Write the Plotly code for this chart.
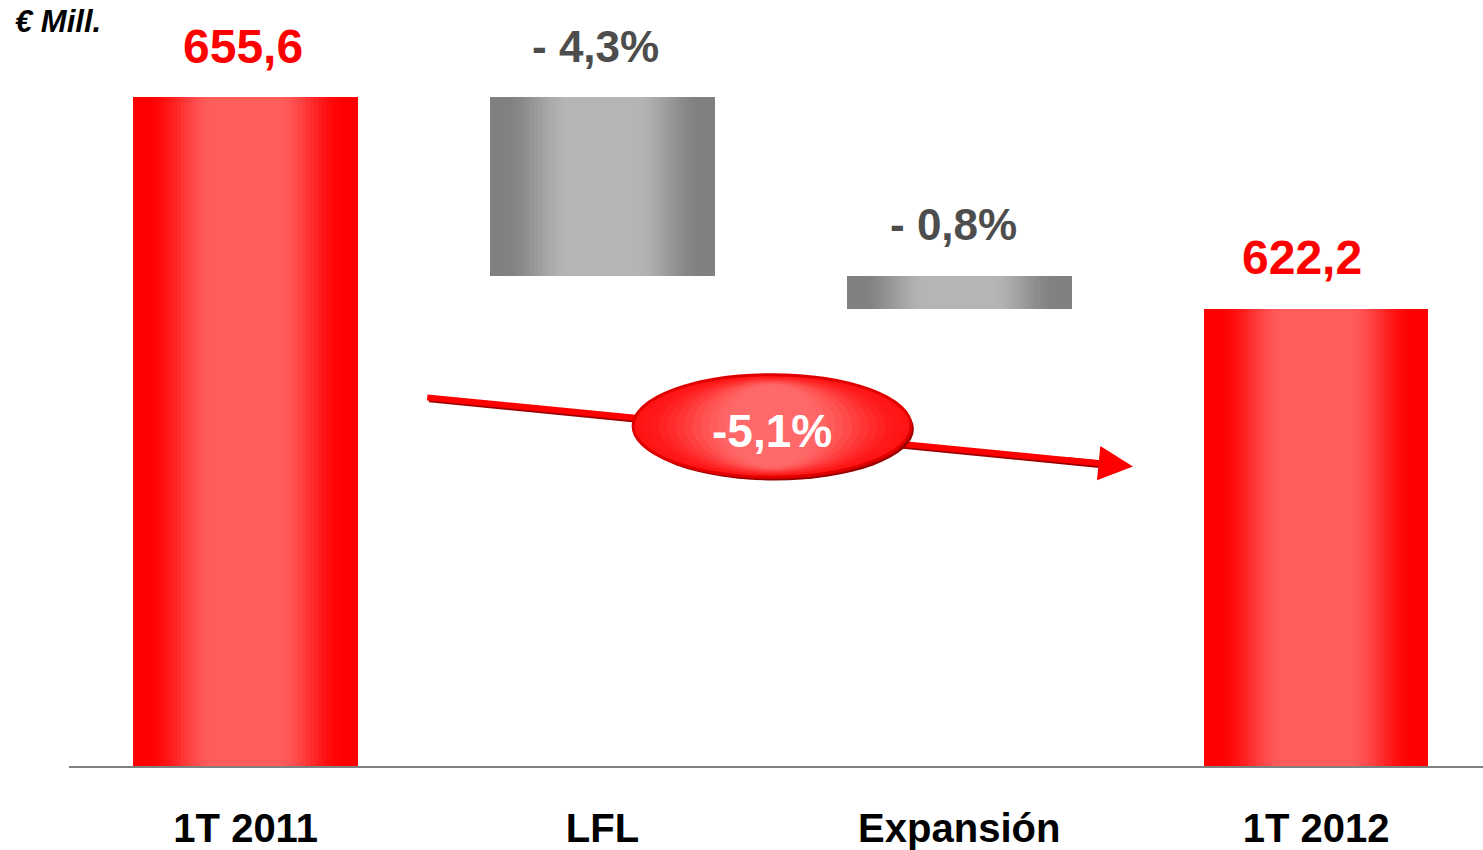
import plotly.graph_objects as go
import numpy as np

# ---------------- data ----------------
categories = ["1T 2011", "LFL", "Expansión", "1T 2012"]
start_value = 655.6          # € Mill., 1T 2011
end_value = 622.2            # € Mill., 1T 2012
lfl_pct = -4.3               # % change LFL
total_pct = -5.1             # % total change
value_labels = ["655,6", "- 4,3%", "- 0,8%", "622,2"]
total_label = "-5,1%"
unit_label = "€ Mill."

# waterfall geometry derived from the data
lfl_delta = start_value * lfl_pct / 100.0
exp_delta = end_value - start_value - lfl_delta
after_lfl = start_value + lfl_delta
tops = [start_value, start_value, after_lfl, end_value]
bases = [0.0, after_lfl, end_value, 0.0]
heights = [t - b for t, b in zip(tops, bases)]
is_total = [True, False, False, True]

# ---------------- style ----------------
FONT = "Liberation Sans, Arial, sans-serif"
BAR_WIDTH = 0.63
RED_EDGE, RED_CENTER = (255, 0, 0), (255, 92, 92)
GRAY_EDGE, GRAY_CENTER = (128, 128, 128), (181, 181, 181)
Y_RANGE = [550, 670.96]
X_RANGE = [-0.495, 3.468]
LABEL_XSHIFT = [-3, -7, -6, -14]


def mix(a, b, t):
    return "rgb({},{},{})".format(*[int(round(a[i] + (b[i] - a[i]) * t)) for i in range(3)])


def smooth(v):
    v = min(max(v, 0.0), 1.0)
    return v * v * (3 - 2 * v)


fig = go.Figure()

# layered bars to simulate a horizontal cylinder-like gradient
N = 28
for k in range(N):
    f = 1 - k / N
    t = smooth((0.9 - f) / (0.9 - 0.3))
    colors = [mix(RED_EDGE, RED_CENTER, t) if tot else mix(GRAY_EDGE, GRAY_CENTER, t)
              for tot in is_total]
    fig.add_trace(go.Bar(
        x=categories, y=heights, base=bases,
        width=BAR_WIDTH * f,
        marker=dict(color=colors, line=dict(width=0)),
        hoverinfo="skip", showlegend=False,
    ))

# value labels above each bar
for cat, top, lab, tot, xs in zip(categories, tops, value_labels, is_total, LABEL_XSHIFT):
    fig.add_annotation(
        x=cat, y=top, text="<b>%s</b>" % lab, showarrow=False,
        yanchor="middle", yshift=51, xshift=xs,
        font=dict(family=FONT, size=48 if tot else 44,
                  color="#ff0000" if tot else "#4d4d4d"),
    )

# trend arrow (decorative)
ARROW_X = (0.509, 2.487)
ARROW_Y = (608.2, 597.3)
slope = (ARROW_Y[1] - ARROW_Y[0]) / (ARROW_X[1] - ARROW_X[0])


def on_line(x):
    return ARROW_Y[0] + (x - ARROW_X[0]) * slope


shapes = []
line_end = ARROW_X[1] - 0.06
# shadow
shapes.append(dict(type="line", xref="x", yref="y",
                   x0=ARROW_X[0] + 0.005, y0=on_line(ARROW_X[0]) - 0.45,
                   x1=line_end, y1=on_line(line_end) - 0.45,
                   line=dict(color="#9a0000", width=4)))
shapes.append(dict(type="line", xref="x", yref="y",
                   x0=ARROW_X[0], y0=ARROW_Y[0], x1=line_end, y1=on_line(line_end),
                   line=dict(color="#ff0000", width=6)))

# ellipse
EX = (1.086, 1.865)
EY = (595.6, 611.8)
ecx, ecy = (EX[0] + EX[1]) / 2, (EY[0] + EY[1]) / 2
ew, eh = EX[1] - EX[0], EY[1] - EY[0]
shapes.append(dict(type="circle", xref="x", yref="y",
                   x0=EX[0] + 0.008, x1=EX[1] + 0.008, y0=EY[0] - 0.5, y1=EY[1] - 0.5,
                   fillcolor="#9a0000", line=dict(width=0)))
M = 14
for k in range(M):
    f = 1 - k / M * 0.85
    hf = 1 - k / M * 0.25
    t = smooth(k / (M - 1) * 1.1)
    shapes.append(dict(type="circle", xref="x", yref="y",
                       x0=ecx - ew * f / 2, x1=ecx + ew * f / 2,
                       y0=ecy - eh * hf / 2, y1=ecy + eh * hf / 2,
                       fillcolor=mix((255, 20, 20), (255, 105, 105), t),
                       line=dict(width=0)))
shapes.append(dict(type="circle", xref="x", yref="y",
                   x0=EX[0], x1=EX[1], y0=EY[0], y1=EY[1],
                   fillcolor="rgba(0,0,0,0)", line=dict(color="#e00000", width=3)))

# arrow head
head_tail = ARROW_X[1] - 0.2
fig.add_annotation(x=ARROW_X[1], y=ARROW_Y[1], ax=head_tail, ay=on_line(head_tail),
                   xref="x", yref="y", axref="x", ayref="y", text="",
                   showarrow=True, arrowhead=2, arrowsize=1.15, arrowwidth=6,
                   arrowcolor="#ff0000")

fig.add_annotation(x=ecx, y=ecy, text="<b>%s</b>" % total_label, showarrow=False,
                   yshift=-5, font=dict(family=FONT, size=46, color="white"))

fig.add_annotation(xref="paper", yref="paper", x=-0.0396, y=0.9716,
                   xanchor="left", yanchor="middle", showarrow=False,
                   text="<b><i>%s</i></b>" % unit_label,
                   font=dict(family=FONT, size=31, color="black"))

fig.update_layout(
    width=1483, height=850,
    margin=dict(l=69, r=0, t=0, b=66),
    paper_bgcolor="white", plot_bgcolor="white",
    barmode="overlay", bargap=0,
    shapes=shapes,
    xaxis=dict(range=X_RANGE, showgrid=False, zeroline=False,
               showline=True, linecolor="#808080", linewidth=2,
               ticks="", ticklabelstandoff=26,
               tickfont=dict(family=FONT, size=40, color="black", weight="bold"),
               fixedrange=True),
    yaxis=dict(range=Y_RANGE, visible=False, showgrid=False, zeroline=False,
               fixedrange=True),
    showlegend=False,
)

PAGE_FIX = (
    "var d=document.querySelector('.plotly-graph-div');"
    "d.style.position='absolute';d.style.left='0px';d.style.top='0px';"
    "document.documentElement.style.cssText='margin:0;padding:0;height:850px;overflow:hidden;';"
    "document.body.style.cssText='margin:0;padding:0;height:850px;overflow:hidden;';"
)

fig.write_html("out.html", config={"displayModeBar": False}, post_script=PAGE_FIX)
